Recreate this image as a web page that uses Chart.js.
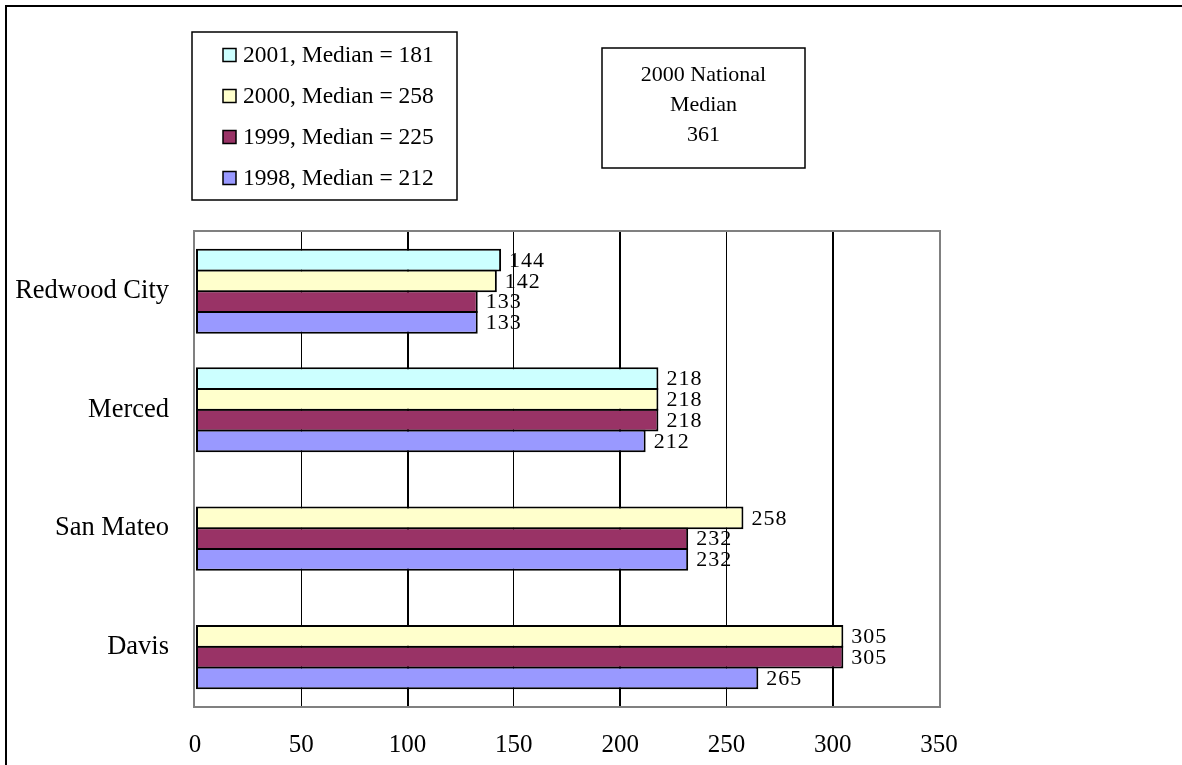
<!DOCTYPE html>
<html>
<head>
<meta charset="utf-8">
<script src="https://cdn.jsdelivr.net/npm/chart.js@4/dist/chart.umd.min.js"></script>
<style>
  html, body { margin: 0; padding: 0; background: #fff; }
  canvas { display: block; }
</style>
</head>
<body>
<canvas id="chart" width="1182" height="765"></canvas>
<script>
// Cities on the category axis, top to bottom
const cities = ['Redwood City', 'Merced', 'San Mateo', 'Davis'];

// Series names as shown in the key
const seriesNames = ['2001, Median = 181', '2000, Median = 258', '1999, Median = 225', '1998, Median = 212'];

// Values per year (null = no figure for that city)
const values2001 = [144, 218, null, null];
const values2000 = [142, 218, 258, 305];
const values1999 = [133, 218, 232, 305];
const values1998 = [133, 212, 232, 265];

// Value axis ticks
const valueTicks = [0, 50, 100, 150, 200, 250, 300, 350];

// Text of the note box
const noteLines = ['2000 National', 'Median', '361'];

const seriesFills = ['#CCFFFF', '#FFFFCC', '#993366', '#9999FF'];
const SERIF = "'Liberation Serif', 'Times New Roman', serif";

const decorations = {
  id: 'decorations',
  beforeDraw(chart) {
    const ctx = chart.ctx;
    ctx.save();
    ctx.fillStyle = '#fff';
    ctx.fillRect(0, 0, chart.width, chart.height);
    // outer frame running off the page to the right and bottom
    ctx.strokeStyle = '#000';
    ctx.lineWidth = 2;
    ctx.strokeRect(6, 6, chart.width + 20, chart.height + 20);
    ctx.restore();
  },
  beforeDatasetsDraw(chart) {
    const { ctx, chartArea: a } = chart;
    ctx.save();
    ctx.strokeStyle = '#808080';
    ctx.lineWidth = 2;
    ctx.strokeRect(a.left - 1, a.top - 1, a.right - a.left + 2, a.bottom - a.top + 2);
    ctx.restore();
  },
  afterDatasetsDraw(chart) {
    const ctx = chart.ctx;
    ctx.save();
    ctx.font = '22px ' + SERIF;
    ctx.fillStyle = '#000';
    ctx.textAlign = 'left';
    ctx.textBaseline = 'middle';
    if ('letterSpacing' in ctx) ctx.letterSpacing = '1px';
    chart.data.datasets.forEach((ds, di) => {
      const meta = chart.getDatasetMeta(di);
      meta.data.forEach((bar, i) => {
        const v = ds.data[i];
        if (v === null || v === undefined) return;
        ctx.fillText(String(v), bar.x + 8, bar.y + 1);
      });
    });
    ctx.restore();
  },
  afterDraw(chart) {
    const ctx = chart.ctx;
    ctx.save();
    // key box
    ctx.strokeStyle = '#000';
    ctx.lineWidth = 1.5;
    ctx.strokeRect(192, 32, 265, 168);
    ctx.font = '23.5px ' + SERIF;
    ctx.textBaseline = 'middle';
    ctx.textAlign = 'left';
    chart.data.datasets.forEach((ds, i) => {
      const cy = 55 + i * 41;
      ctx.fillStyle = ds.backgroundColor;
      ctx.fillRect(223, cy - 6.5, 13, 13);
      ctx.strokeStyle = '#000';
      ctx.lineWidth = 1.5;
      ctx.strokeRect(223, cy - 6.5, 13, 13);
      ctx.fillStyle = '#000';
      ctx.fillText(ds.label, 243, cy + 1);
    });
    // note box
    ctx.lineWidth = 1.5;
    ctx.strokeRect(602, 48, 203, 120);
    ctx.font = '22px ' + SERIF;
    ctx.textAlign = 'center';
    noteLines.forEach((t, i) => ctx.fillText(t, 703.5, 75 + i * 30));
    ctx.restore();
  }
};

const seriesData = [values2001, values2000, values1999, values1998];

new Chart(document.getElementById('chart'), {
  type: 'bar',
  data: {
    labels: cities,
    datasets: seriesData.map((d, i) => ({
      label: seriesNames[i],
      data: d,
      backgroundColor: seriesFills[i],
      borderColor: '#000',
      borderWidth: 2,
      borderSkipped: false,
      categoryPercentage: 0.702,
      barPercentage: 1.096
    }))
  },
  options: {
    indexAxis: 'y',
    responsive: false,
    animation: false,
    devicePixelRatio: 1,
    layout: { padding: { left: 0, top: 232, right: 243, bottom: 0 } },
    plugins: { legend: { display: false }, tooltip: { enabled: false } },
    scales: {
      x: {
        min: valueTicks[0],
        max: valueTicks[valueTicks.length - 1],
        afterBuildTicks(scale) { scale.ticks = valueTicks.map(v => ({ value: v })); },
        afterFit(scale) { scale.height = 59; },
        border: { display: false },
        grid: {
          drawTicks: false,
          color(c) {
            const v = c.tick && c.tick.value;
            return (v === valueTicks[0] || v === valueTicks[valueTicks.length - 1]) ? 'rgba(0,0,0,0)' : '#000';
          },
          lineWidth(c) { return (c.tick && c.tick.value % 100 === 0) ? 2 : 1; }
        },
        ticks: {
          padding: 24,
          color: '#000',
          font: { family: SERIF, size: 25 }
        }
      },
      y: {
        afterFit(scale) { scale.width = 195; },
        border: { display: false },
        grid: { display: false, drawTicks: false },
        ticks: {
          padding: 26,
          color: '#000',
          font: { family: SERIF, size: 26.5 }
        }
      }
    }
  },
  plugins: [decorations]
});
</script>
</body>
</html>
